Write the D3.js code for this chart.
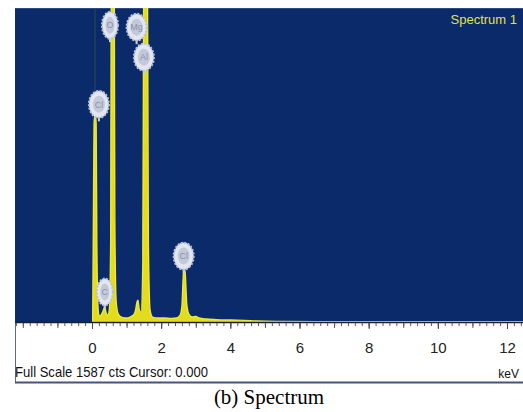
<!DOCTYPE html>
<html>
<head>
<meta charset="utf-8">
<script src="https://cdn.jsdelivr.net/npm/d3@7"></script>
<style>
  body { margin: 0; background: #fff; }
  svg { display: block; }
</style>
</head>
<body>
<svg id="chart" width="523" height="412"></svg>
<script>
// spectrum samples (keV, counts); full scale is 1587 cts
const energy = [0.02, 0.04, 0.06, 0.08, 0.10, 0.12, 0.14, 0.17, 0.20, 0.24, 0.28, 0.32, 0.35, 0.37, 0.39, 0.42, 0.46,
  0.50, 0.54, 0.56, 0.60, 0.64, 0.66, 0.70, 0.76, 0.85, 1.00, 1.10, 1.20, 1.26, 1.30, 1.33, 1.37, 1.42,
  1.47, 1.50, 1.55, 1.60, 1.63, 1.68, 1.75, 1.90, 2.10, 2.30, 2.45, 2.55, 2.60, 2.63, 2.65, 2.69, 2.71, 2.74,
  2.80, 2.90, 3.00, 3.10, 3.30, 3.60, 4.00, 4.40, 4.80, 5.50, 6.50, 12.50];
const counts = [0, 500, 1000, 1045, 1045, 1000, 400, 90, 35, 30, 40, 55, 70, 75, 60, 40, 35,
  60, 400, 2000, 2600, 2000, 500, 100, 40, 25, 20, 25, 35, 60, 100, 110, 60, 50,
  300, 2000, 2600, 2000, 400, 60, 25, 20, 20, 18, 20, 35, 80, 200, 262, 262, 200, 90,
  40, 25, 28, 20, 15, 12, 10, 8, 5, 3, 2, 1];

// element markers: symbol, keV and counts at the marker centre
const markerElements = ["Cl", "C", "O", "Mg", "Al", "Cl"];
const markerEnergy = [0.20, 0.37, 0.52, 1.29, 1.50, 2.65];
const markerCounts = [1100, 152, 1500, 1490, 1338, 333];

const tickLabels = [0, 2, 4, 6, 8, 10, 12];
const fullScale = 1587;
const cursor = 0.000;

const svg = d3.select('#chart');
const W = 523, plotLeft = 15, plotTop = 8, base = 322;

const x = d3.scaleLinear().domain([0, 12]).range([92, 507]);
const y = d3.scaleLinear().domain([0, fullScale]).range([base, plotTop]);

svg.append('defs').append('clipPath').attr('id', 'plot')
  .append('rect').attr('x', plotLeft).attr('y', plotTop).attr('width', W - plotLeft).attr('height', base - plotTop);

// white frame below the plot
svg.append('line').attr('x1', plotLeft + 0.5).attr('x2', plotLeft + 0.5).attr('y1', base).attr('y2', 383)
  .attr('stroke', '#5a6a88').attr('stroke-width', 1);
svg.append('line').attr('x1', plotLeft).attr('x2', W).attr('y1', 382.5).attr('y2', 382.5)
  .attr('stroke', '#46557a').attr('stroke-width', 2);

// blue plot background
svg.append('rect').attr('x', plotLeft).attr('y', plotTop).attr('width', W - plotLeft).attr('height', base - plotTop)
  .attr('fill', '#0a2a69');
svg.append('line').attr('x1', plotLeft).attr('x2', W).attr('y1', plotTop + 0.5).attr('y2', plotTop + 0.5)
  .attr('stroke', '#2a4a8a');

const plot = svg.append('g').attr('clip-path', 'url(#plot)');

// cursor line
plot.append('line').attr('x1', x(cursor) + 3).attr('x2', x(cursor) + 3).attr('y1', plotTop).attr('y2', base)
  .attr('stroke', '#2c4858').attr('stroke-width', 2).attr('opacity', 0.5);

const pts = energy.map((e, i) => [e, counts[i]]);
const area = d3.area()
  .x(d => x(d[0]))
  .y0(base)
  .y1(d => y(d[1]))
  .curve(d3.curveMonotoneX);

plot.append('path').datum(pts)
  .attr('d', area)
  .attr('fill', '#e3dc1e')
  .attr('stroke', '#eee838')
  .attr('stroke-width', 1.4);

// dark baseline
svg.append('line').attr('x1', plotLeft).attr('x2', W).attr('y1', base + 0.5).attr('y2', base + 0.5)
  .attr('stroke', '#1a2030').attr('stroke-width', 1.5);

// element markers
const mk = plot.selectAll('g.mk')
  .data(markerElements.map((s, i) => ({ s, e: markerEnergy[i], c: markerCounts[i] })))
  .join('g')
  .attr('class', 'mk')
  .attr('transform', d => `translate(${x(d.e)},${y(d.c)})`);

mk.append('line').attr('x1', 0).attr('x2', 0).attr('y1', 12).attr('y2', 17)
  .attr('stroke', '#c9d0e2').attr('stroke-width', 2);
mk.append('ellipse').attr('rx', d => d.s.length > 1 ? 10 : 8).attr('ry', 13.5)
  .attr('fill', '#e2e6f0').attr('stroke', '#b8c0d6').attr('stroke-width', 2)
  .attr('stroke-dasharray', '2,1.5');
mk.append('ellipse').attr('rx', d => d.s.length > 1 ? 6 : 4.5).attr('ry', 8.5)
  .attr('fill', '#c3c9da');
mk.append('text')
  .attr('text-anchor', 'middle').attr('dy', '0.35em')
  .attr('font-family', 'Liberation Sans Narrow, Liberation Sans, sans-serif')
  .attr('font-size', 9).attr('fill', '#8a91a8')
  .text(d => d.s);

svg.append('text')
  .attr('x', 517).attr('y', 24).attr('text-anchor', 'end')
  .attr('font-family', 'Liberation Sans Narrow, Liberation Sans, sans-serif')
  .attr('font-size', 13).attr('fill', '#e4e240')
  .text('Spectrum 1');

// axis ticks
const minor = d3.range(-2.2, 12.5, 0.2);
svg.append('g').attr('transform', `translate(0,${base + 1})`)
  .call(d3.axisBottom(x).tickValues(minor).tickSize(3).tickFormat(''))
  .call(g => g.select('.domain').remove())
  .call(g => g.selectAll('line').attr('stroke', '#555a66'));
svg.append('g').attr('transform', `translate(0,${base + 1})`)
  .call(d3.axisBottom(x).tickValues(d3.range(-2, 13, 1)).tickSize(5).tickFormat(''))
  .call(g => g.select('.domain').remove())
  .call(g => g.selectAll('line').attr('stroke', '#555a66'));
svg.append('g').attr('transform', `translate(0,${base + 1})`)
  .call(d3.axisBottom(x).tickValues(tickLabels).tickSize(6).tickPadding(13).tickFormat(d3.format('d')))
  .call(g => g.select('.domain').remove())
  .call(g => g.selectAll('line').attr('stroke', '#444a56'))
  .call(g => g.selectAll('text')
    .attr('font-family', 'Liberation Sans Narrow, Liberation Sans, sans-serif')
    .attr('font-size', 15).attr('fill', '#222'));

svg.append('text')
  .attr('x', plotLeft).attr('y', 377)
  .attr('font-family', 'Liberation Sans Narrow, Liberation Sans, sans-serif')
  .attr('font-size', 15).attr('fill', '#111')
  .attr('textLength', 193).attr('lengthAdjust', 'spacingAndGlyphs')
  .text(`Full Scale ${fullScale} cts Cursor: ${cursor.toFixed(3)}`);

svg.append('text')
  .attr('x', 519).attr('y', 378).attr('text-anchor', 'end')
  .attr('font-family', 'Liberation Sans Narrow, Liberation Sans, sans-serif')
  .attr('font-size', 12).attr('fill', '#111')
  .text('keV');

svg.append('text')
  .attr('x', 269).attr('y', 404).attr('text-anchor', 'middle')
  .attr('font-family', 'Liberation Serif, Times New Roman, serif')
  .attr('font-size', 21).attr('fill', '#000')
  .text('(b) Spectrum');
</script>
</body>
</html>
